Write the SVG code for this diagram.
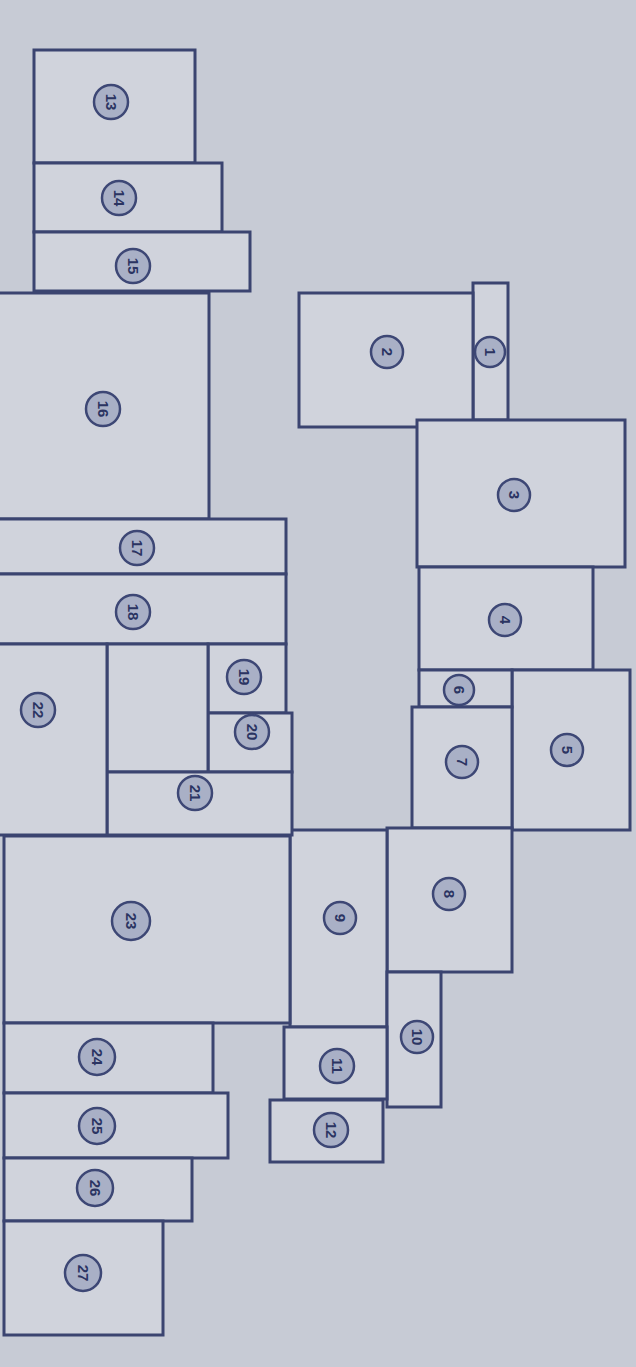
<svg xmlns="http://www.w3.org/2000/svg" width="636" height="1367" viewBox="0 0 636 1367">
<style>
.r{fill:#d0d3dc;stroke:#3b4470;stroke-width:3;stroke-linejoin:miter}
.c{fill:#a9b0c6;stroke:#3d4775;stroke-width:2.5}
.t{font-family:"Liberation Sans",Arial,sans-serif;font-size:15px;font-weight:bold;fill:#2b3462;text-anchor:middle;dominant-baseline:central}
</style>
<rect width="636" height="1367" fill="#c7cbd5"/>
<g id="room-1"><rect class="r" x="473" y="283" width="35" height="137"/><circle class="c" cx="490" cy="352" r="15"/><text class="t" transform="translate(490 352) rotate(90)">1</text></g>
<g id="room-2"><rect class="r" x="299" y="293" width="174" height="134"/><circle class="c" cx="387" cy="352" r="16"/><text class="t" transform="translate(387 352) rotate(90)">2</text></g>
<g id="room-3"><rect class="r" x="417" y="420" width="208" height="147"/><circle class="c" cx="514" cy="495" r="16"/><text class="t" transform="translate(514 495) rotate(90)">3</text></g>
<g id="room-4"><rect class="r" x="419" y="567" width="174" height="103"/><circle class="c" cx="505" cy="620" r="16"/><text class="t" transform="translate(505 620) rotate(90)">4</text></g>
<g id="room-5"><rect class="r" x="512" y="670" width="118" height="160"/><circle class="c" cx="567" cy="750" r="16"/><text class="t" transform="translate(567 750) rotate(90)">5</text></g>
<g id="room-6"><rect class="r" x="419" y="670" width="93" height="37"/><circle class="c" cx="459" cy="690" r="15"/><text class="t" transform="translate(459 690) rotate(90)">6</text></g>
<g id="room-7"><rect class="r" x="412" y="707" width="100" height="121"/><circle class="c" cx="462" cy="762" r="16"/><text class="t" transform="translate(462 762) rotate(90)">7</text></g>
<g id="room-8"><rect class="r" x="387" y="828" width="125" height="144"/><circle class="c" cx="449" cy="894" r="16"/><text class="t" transform="translate(449 894) rotate(90)">8</text></g>
<g id="room-9"><rect class="r" x="290" y="830" width="97" height="197"/><circle class="c" cx="340" cy="918" r="16"/><text class="t" transform="translate(340 918) rotate(90)">9</text></g>
<g id="room-10"><rect class="r" x="387" y="972" width="54" height="135"/><circle class="c" cx="417" cy="1037" r="16"/><text class="t" transform="translate(417 1037) rotate(90)">10</text></g>
<g id="room-11"><rect class="r" x="284" y="1027" width="103" height="72"/><circle class="c" cx="337" cy="1066" r="17"/><text class="t" transform="translate(337 1066) rotate(90)">11</text></g>
<g id="room-12"><rect class="r" x="270" y="1100" width="113" height="62"/><circle class="c" cx="331" cy="1130" r="17"/><text class="t" transform="translate(331 1130) rotate(90)">12</text></g>
<g id="room-13"><rect class="r" x="34" y="50" width="161" height="113"/><circle class="c" cx="111" cy="102" r="17"/><text class="t" transform="translate(111 102) rotate(90)">13</text></g>
<g id="room-14"><rect class="r" x="34" y="163" width="188" height="69"/><circle class="c" cx="119" cy="198" r="17"/><text class="t" transform="translate(119 198) rotate(90)">14</text></g>
<g id="room-15"><rect class="r" x="34" y="232" width="216" height="59"/><circle class="c" cx="133" cy="266" r="17"/><text class="t" transform="translate(133 266) rotate(90)">15</text></g>
<g id="room-16"><rect class="r" x="-2" y="293" width="211" height="226"/><circle class="c" cx="103" cy="409" r="17"/><text class="t" transform="translate(103 409) rotate(90)">16</text></g>
<g id="room-17"><rect class="r" x="-2" y="519" width="288" height="55"/><circle class="c" cx="137" cy="548" r="17"/><text class="t" transform="translate(137 548) rotate(90)">17</text></g>
<g id="room-18"><rect class="r" x="-2" y="574" width="288" height="70"/><circle class="c" cx="133" cy="612" r="17"/><text class="t" transform="translate(133 612) rotate(90)">18</text></g>
<g id="room-19"><rect class="r" x="208" y="644" width="78" height="69"/><circle class="c" cx="244" cy="677" r="17"/><text class="t" transform="translate(244 677) rotate(90)">19</text></g>
<g id="room-20"><rect class="r" x="208" y="713" width="84" height="59"/><circle class="c" cx="252" cy="732" r="17"/><text class="t" transform="translate(252 732) rotate(90)">20</text></g>
<g id="room-blank"><rect class="r" x="107" y="644" width="101" height="128"/></g>
<g id="room-21"><rect class="r" x="107" y="772" width="185" height="63"/><circle class="c" cx="195" cy="793" r="17"/><text class="t" transform="translate(195 793) rotate(90)">21</text></g>
<g id="room-22"><rect class="r" x="-2" y="644" width="109" height="191"/><circle class="c" cx="38" cy="710" r="17"/><text class="t" transform="translate(38 710) rotate(90)">22</text></g>
<g id="room-23"><rect class="r" x="4" y="836" width="286" height="187"/><circle class="c" cx="131" cy="921" r="19"/><text class="t" transform="translate(131 921) rotate(90)">23</text></g>
<g id="room-24"><rect class="r" x="4" y="1023" width="209" height="70"/><circle class="c" cx="97" cy="1057" r="18"/><text class="t" transform="translate(97 1057) rotate(90)">24</text></g>
<g id="room-25"><rect class="r" x="4" y="1093" width="224" height="65"/><circle class="c" cx="97" cy="1126" r="18"/><text class="t" transform="translate(97 1126) rotate(90)">25</text></g>
<g id="room-26"><rect class="r" x="4" y="1158" width="188" height="63"/><circle class="c" cx="95" cy="1188" r="18"/><text class="t" transform="translate(95 1188) rotate(90)">26</text></g>
<g id="room-27"><rect class="r" x="4" y="1221" width="159" height="114"/><circle class="c" cx="83" cy="1273" r="18"/><text class="t" transform="translate(83 1273) rotate(90)">27</text></g>
</svg>
